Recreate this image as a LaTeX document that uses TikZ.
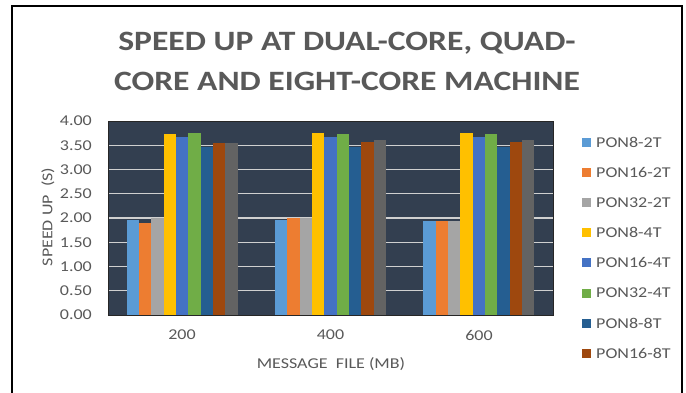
\documentclass[tikz,border=0pt]{standalone}
\usepackage{fontspec}
\setmainfont{Carlito}[FakeStretch=1.2]
\definecolor{txtgrey}{HTML}{595959}
\definecolor{plotbg}{HTML}{333F50}
\definecolor{gridc}{HTML}{D0D0D0}
\definecolor{ca}{HTML}{5B9BD5}
\definecolor{cb}{HTML}{ED7D31}
\definecolor{cc}{HTML}{A5A5A5}
\definecolor{cd}{HTML}{FFC000}
\definecolor{ce}{HTML}{4472C4}
\definecolor{cf}{HTML}{70AD47}
\definecolor{cg}{HTML}{255E91}
\definecolor{ch}{HTML}{9E480E}
\definecolor{ci}{HTML}{636363}
\begin{document}
\begin{tikzpicture}[x=1pt,y=-1pt,
  lbl/.style={text=txtgrey, font=\fontsize{15}{18}\selectfont, inner sep=0pt},
  titlestyle/.style={text=txtgrey, font=\fontsize{28}{34}\selectfont\bfseries, inner sep=0pt, anchor=base},
  gridline/.style={draw=gridc, line width=1.2pt},
  legsq/.style={minimum size=9pt, inner sep=0pt, draw=none}]
\useasboundingbox (0,0) rectangle (686,393);
\fill[white] (0,0) rectangle (686,393);
\draw[line width=1.2pt] (12,393) -- (12,6) -- (682,6) -- (682,393);
% title
\node[titlestyle] (t1) at (347,51) {SPEED UP AT DUAL-CORE, QUAD-};
\node[titlestyle] (t2) at (347,91) {CORE AND EIGHT-CORE MACHINE};
% plot area
\fill[plotbg] (108,121) rectangle (553,315);
\foreach \v in {0.5,1,1.5,2,2.5,3,3.5}
  \draw[gridline] (108,{315-\v*48.5}) -- (553,{315-\v*48.5});
% bars
\foreach [count=\i from 0] \v/\c in {1.95/ca,1.90/cb,2.00/cc,3.73/cd,3.68/ce,3.76/cf,3.46/cg,3.54/ch,3.54/ci}
  \fill[\c] ({126.7+\i*12.33},{315-\v*48.5}) rectangle ({126.7+(\i+1)*12.33},315);
\foreach [count=\i from 0] \v/\c in {1.95/ca,1.99/cb,2.00/cc,3.76/cd,3.68/ce,3.73/cf,3.46/cg,3.56/ch,3.61/ci}
  \fill[\c] ({275.0+\i*12.33},{315-\v*48.5}) rectangle ({275.0+(\i+1)*12.33},315);
\foreach [count=\i from 0] \v/\c in {1.94/ca,1.94/cb,1.94/cc,3.76/cd,3.68/ce,3.73/cf,3.46/cg,3.56/ch,3.61/ci}
  \fill[\c] ({423.3+\i*12.33},{315-\v*48.5}) rectangle ({423.3+(\i+1)*12.33},315);
\draw[black!85, line width=0.8pt] (108,121) rectangle (553,315);
% y tick labels
\foreach \v/\t [count=\k] in {0/0.00,0.5/0.50,1/1.00,1.5/1.50,2/2.00,2.5/2.50,3/3.00,3.5/3.50,4/4.00}
  \node[lbl, anchor=east] (yt\k) at (92,{315-\v*48.5}) {\t};
\node[lbl, rotate=90] (ylab) at (48,217) {SPEED UP\ \ (S)};
% x tick labels
\node[lbl] (x1) at (182,335) {200};
\node[lbl] (x2) at (330.5,335) {400};
\node[lbl] (x3) at (479,335) {600};
\node[lbl] (xlab) at (331,364) {MESSAGE\ \ FILE (MB)};
% legend
\foreach \c/\t [count=\k from 0] in {ca/PON8-2T,cb/PON16-2T,cc/PON32-2T,cd/PON8-4T,ce/PON16-4T,cf/PON32-4T,cg/PON8-8T,ch/PON16-8T}{
  \node[legsq, fill=\c] (lsq\k) at (586.5,{142.5+\k*30.1}) {};
  \node[lbl, anchor=west] (ltx\k) at (596,{142.5+\k*30.1}) {\t};
}
\end{tikzpicture}
\end{document}
